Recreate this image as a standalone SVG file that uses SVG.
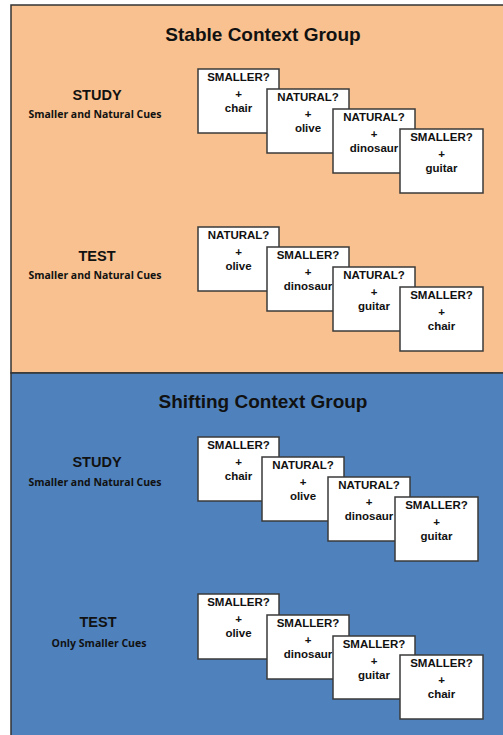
<svg xmlns="http://www.w3.org/2000/svg" width="503" height="735" viewBox="0 0 503 735">
<style>
.panel{stroke:#333;stroke-width:1.5}
.card rect{fill:#fff;stroke:#3a3a3a;stroke-width:1.5}
.card text{font-family:"Liberation Sans",Arial,sans-serif;font-weight:bold;font-size:11.5px;fill:#111;text-anchor:middle}
.title{font-family:"Liberation Sans",Arial,sans-serif;font-weight:bold;font-size:19px;fill:#111;text-anchor:middle}
.phase{font-family:"Liberation Sans",Arial,sans-serif;font-weight:bold;font-size:14.5px;fill:#111;text-anchor:middle}
.sub{font-family:"Open Sans","Liberation Sans",sans-serif;font-weight:bold;font-size:10px;fill:#111;text-anchor:middle}
</style>
<rect width="503" height="735" fill="#fff"/>
<g id="stable-panel">
<rect class="panel" x="11" y="5" width="495" height="368" fill="#F9C18F"/>
<text class="title" x="263" y="41">Stable Context Group</text>
</g>
<g id="shifting-panel">
<rect class="panel" x="11" y="373" width="495" height="366" fill="#4F81BD"/>
<text class="title" x="263" y="408">Shifting Context Group</text>
</g>
<g id="stable-study-label"><text class="phase" x="97" y="100">STUDY</text><text class="sub" x="95" y="118" textLength="133" lengthAdjust="spacingAndGlyphs">Smaller and Natural Cues</text></g>
<g id="stable-test-label"><text class="phase" x="97" y="261">TEST</text><text class="sub" x="95" y="279" textLength="133" lengthAdjust="spacingAndGlyphs">Smaller and Natural Cues</text></g>
<g id="shift-study-label"><text class="phase" x="97" y="467">STUDY</text><text class="sub" x="95" y="486" textLength="133" lengthAdjust="spacingAndGlyphs">Smaller and Natural Cues</text></g>
<g id="shift-test-label"><text class="phase" x="98" y="627">TEST</text><text class="sub" x="99" y="647" textLength="95" lengthAdjust="spacingAndGlyphs">Only Smaller Cues</text></g>

<g id="s-study-1" class="card" transform="translate(198,69)"><rect width="81" height="64"/><text x="40.5" y="12">SMALLER?</text><text x="40.5" y="29">+</text><text x="40.5" y="43">chair</text></g>
<g id="s-study-2" class="card" transform="translate(267,89)"><rect width="82" height="64"/><text x="41" y="12">NATURAL?</text><text x="41" y="29">+</text><text x="41" y="43">olive</text></g>
<g id="s-study-3" class="card" transform="translate(333,109)"><rect width="82" height="64"/><text x="41" y="12">NATURAL?</text><text x="41" y="29">+</text><text x="41" y="43">dinosaur</text></g>
<g id="s-study-4" class="card" transform="translate(400,129)"><rect width="83" height="64"/><text x="41.5" y="12">SMALLER?</text><text x="41.5" y="29">+</text><text x="41.5" y="43">guitar</text></g>

<g id="s-test-1" class="card" transform="translate(198,227)"><rect width="81" height="64"/><text x="40.5" y="12">NATURAL?</text><text x="40.5" y="29">+</text><text x="40.5" y="43">olive</text></g>
<g id="s-test-2" class="card" transform="translate(267,247)"><rect width="82" height="64"/><text x="41" y="12">SMALLER?</text><text x="41" y="29">+</text><text x="41" y="43">dinosaur</text></g>
<g id="s-test-3" class="card" transform="translate(333,267)"><rect width="82" height="64"/><text x="41" y="12">NATURAL?</text><text x="41" y="29">+</text><text x="41" y="43">guitar</text></g>
<g id="s-test-4" class="card" transform="translate(400,287)"><rect width="83" height="64"/><text x="41.5" y="12">SMALLER?</text><text x="41.5" y="29">+</text><text x="41.5" y="43">chair</text></g>

<g id="h-study-1" class="card" transform="translate(198,437)"><rect width="81" height="64"/><text x="40.5" y="12">SMALLER?</text><text x="40.5" y="29">+</text><text x="40.5" y="43">chair</text></g>
<g id="h-study-2" class="card" transform="translate(262,457)"><rect width="82" height="64"/><text x="41" y="12">NATURAL?</text><text x="41" y="29">+</text><text x="41" y="43">olive</text></g>
<g id="h-study-3" class="card" transform="translate(328,477)"><rect width="82" height="64"/><text x="41" y="12">NATURAL?</text><text x="41" y="29">+</text><text x="41" y="43">dinosaur</text></g>
<g id="h-study-4" class="card" transform="translate(395,497)"><rect width="83" height="64"/><text x="41.5" y="12">SMALLER?</text><text x="41.5" y="29">+</text><text x="41.5" y="43">guitar</text></g>

<g id="h-test-1" class="card" transform="translate(198,594)"><rect width="81" height="65"/><text x="40.5" y="12">SMALLER?</text><text x="40.5" y="29">+</text><text x="40.5" y="43">olive</text></g>
<g id="h-test-2" class="card" transform="translate(267,615)"><rect width="82" height="64"/><text x="41" y="12">SMALLER?</text><text x="41" y="29">+</text><text x="41" y="43">dinosaur</text></g>
<g id="h-test-3" class="card" transform="translate(333,636)"><rect width="82" height="63"/><text x="41" y="12">SMALLER?</text><text x="41" y="29">+</text><text x="41" y="43">guitar</text></g>
<g id="h-test-4" class="card" transform="translate(400,655)"><rect width="83" height="64"/><text x="41.5" y="12">SMALLER?</text><text x="41.5" y="29">+</text><text x="41.5" y="43">chair</text></g>
<g id="connectors"/>
</svg>
